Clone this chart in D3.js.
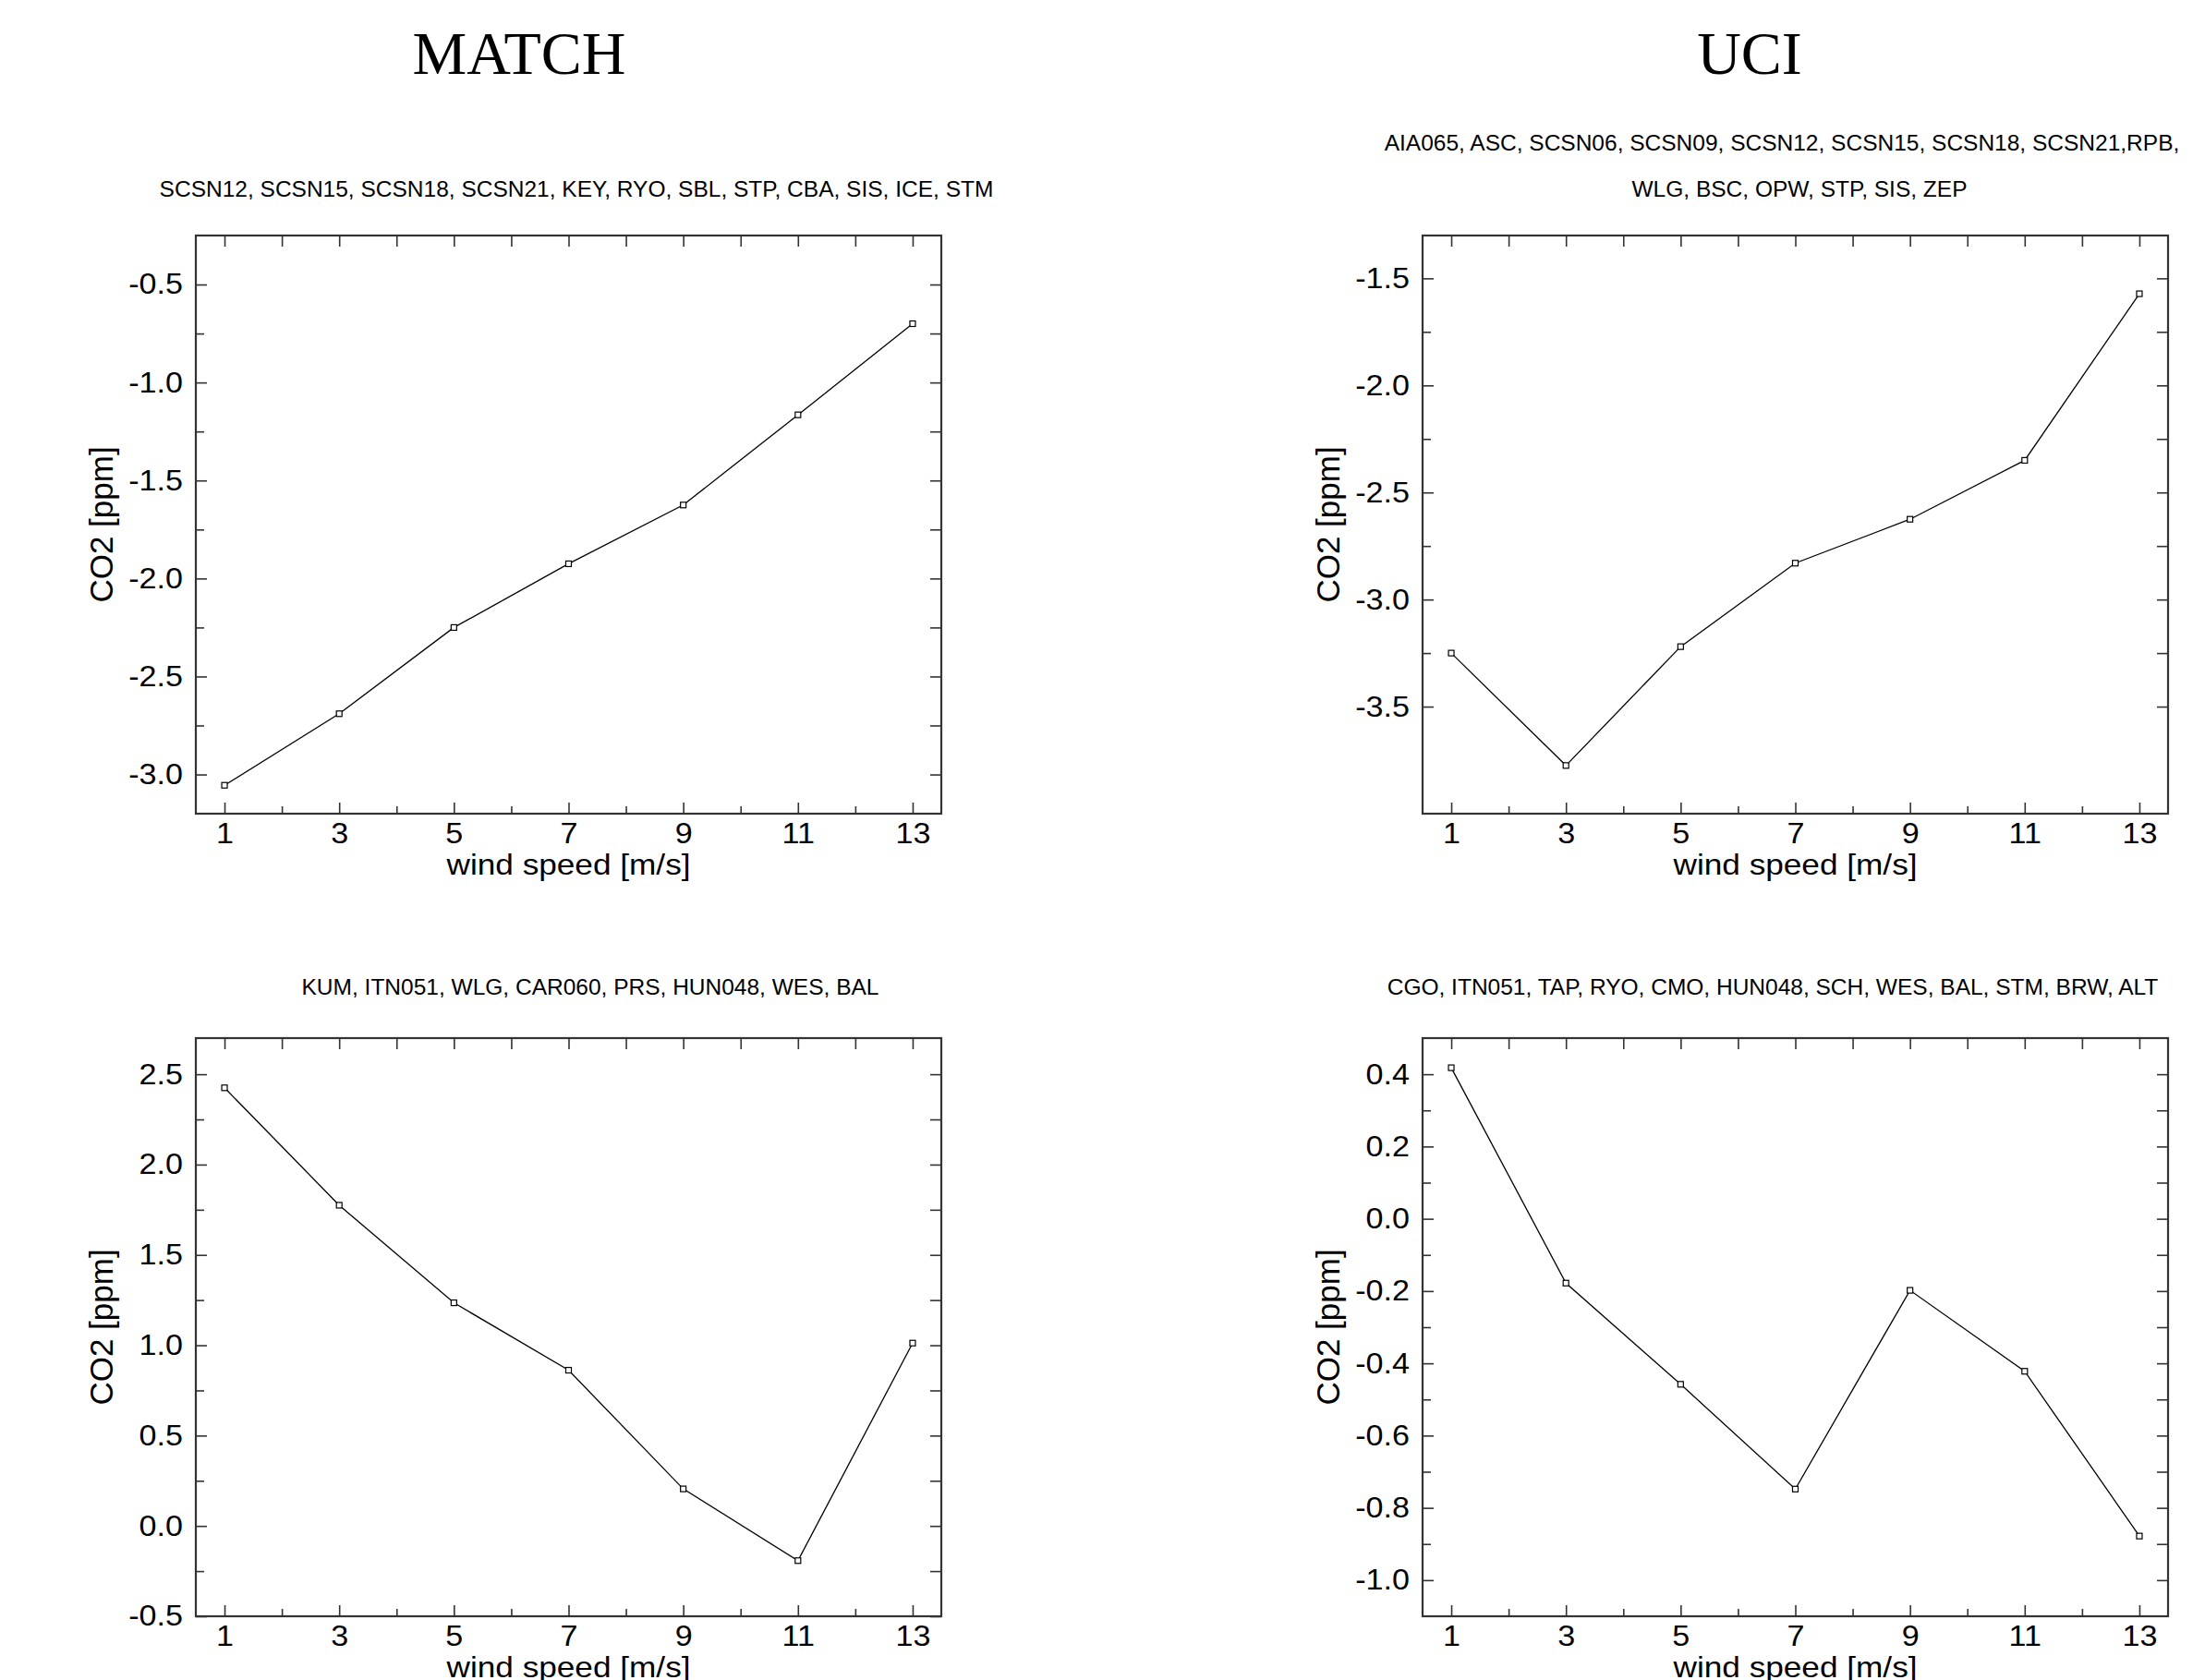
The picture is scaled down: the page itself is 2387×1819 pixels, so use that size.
<!DOCTYPE html>
<html>
<head>
<meta charset="utf-8">
<script src="https://cdn.jsdelivr.net/npm/d3@7"></script>
<style>
  html, body { margin: 0; padding: 0; background: #fff; }
  text { font-family: "Liberation Sans", Arial, sans-serif; fill: #000; }
  .title { font-family: "Liberation Serif", "Times New Roman", serif; font-size: 66px; }
  .sub { font-size: 24.5px; }
  .tick text { font-size: 31px; }
  .lbl { font-size: 32px; }
  .ylbl { font-size: 35px; }
</style>
</head>
<body>
<svg id="chart"></svg>
<script>
// wind speed bins, shared by all four panels
const windSpeed = [1, 3, 5, 7, 9, 11, 13];
const xTicksMajor = [1, 3, 5, 7, 9, 11, 13];
const xTicksMinor = [2, 4, 6, 8, 10, 12];

// CO2 [ppm] per wind speed bin
const matchTop  = [-3.055, -2.69, -2.25, -1.925, -1.625, -1.165, -0.70];
const uciTop    = [-3.25, -3.775, -3.22, -2.83, -2.625, -2.35, -1.572];
const matchBot  = [2.425, 1.775, 1.235, 0.862, 0.205, -0.192, 1.012];
const uciBot    = [0.418, -0.178, -0.458, -0.748, -0.198, -0.422, -0.878];

// station lists shown above each panel
const matchTopSites = ["SCSN12, SCSN15, SCSN18, SCSN21, KEY, RYO, SBL, STP, CBA, SIS, ICE, STM"];
const uciTopSites   = ["AIA065, ASC, SCSN06, SCSN09, SCSN12, SCSN15, SCSN18, SCSN21,RPB,",
                       "WLG, BSC, OPW, STP, SIS, ZEP"];
const matchBotSites = ["KUM, ITN051, WLG, CAR060, PRS, HUN048, WES, BAL"];
const uciBotSites   = ["CGO, ITN051, TAP, RYO, CMO, HUN048, SCH, WES, BAL, STM, BRW, ALT"];

// y tick labels per panel
const matchTopTicks = [-3.0, -2.5, -2.0, -1.5, -1.0, -0.5];
const uciTopTicks   = [-3.5, -3.0, -2.5, -2.0, -1.5];
const matchBotTicks = [-0.5, 0.0, 0.5, 1.0, 1.5, 2.0, 2.5];
const uciBotTicks   = [-1.0, -0.8, -0.6, -0.4, -0.2, 0.0, 0.2, 0.4];

const models = [{name: "MATCH", cx: 562}, {name: "UCI", cx: 1894}];

let width   = 2387,
    height  = 1819,
    frameW  = 807,
    frameH  = 626,
    stretch = 1.1,   // the original lettering is a bit wide
    svg     = d3.select("#chart").attr("width", width).attr("height", height);

let panels = [
  {x: 212,  y: 255,  values: matchTop, ticks: matchTopTicks, domain: [-3.2, -0.25], sites: matchTopSites, subX: [624],        subY: [213]},
  {x: 1540, y: 255,  values: uciTop,   ticks: uciTopTicks,   domain: [-4.0, -1.3],  sites: uciTopSites,   subX: [1929, 1948], subY: [163, 213]},
  {x: 212,  y: 1124, values: matchBot, ticks: matchBotTicks, domain: [-0.5, 2.7],   sites: matchBotSites, subX: [639],        subY: [1077]},
  {x: 1540, y: 1124, values: uciBot,   ticks: uciBotTicks,   domain: [-1.1, 0.5],   sites: uciBotSites,   subX: [1919],       subY: [1077]}
];

// Model titles
svg.selectAll("text.title")
  .data(models)
  .enter().append("text")
  .attr("class", "title")
  .attr("x", d => d.cx)
  .attr("y", 80)
  .attr("text-anchor", "middle")
  .text(d => d.name);

panels.forEach(drawPanel);

function drawPanel(p) {
  let x = d3.scaleLinear().domain([0.5, 13.5]).range([0, frameW]),
      y = d3.scaleLinear().domain(p.domain).range([frameH, 0]),
      step = p.ticks[1] - p.ticks[0],
      minor = p.ticks.map(t => t + step / 2).filter(t => t > p.domain[0] && t < p.domain[1]),
      fmt = d => d.toFixed(1),
      g = svg.append("g").attr("transform", "translate(" + p.x + "," + p.y + ")");

  // station list(s)
  p.sites.forEach((s, i) => {
    svg.append("text")
      .attr("class", "sub")
      .attr("x", p.subX[i])
      .attr("y", p.subY[i])
      .attr("text-anchor", "middle")
      .text(s);
  });

  // Axes: all ticks point inward
  let xAx = g.append("g").attr("transform", "translate(0," + frameH + ")")
    .call(d3.axisBottom(x).tickValues(xTicksMajor).tickSize(-12).tickPadding(10).tickFormat(d3.format("d")));
  g.append("g").attr("transform", "translate(0," + frameH + ")")
    .call(d3.axisBottom(x).tickValues(xTicksMinor).tickSize(-8).tickFormat(""));
  g.append("g")
    .call(d3.axisTop(x).tickValues(xTicksMajor.concat(xTicksMinor)).tickSize(-12).tickFormat(""));

  let yAx = g.append("g").call(d3.axisLeft(y).tickValues(p.ticks).tickSize(-12).tickPadding(14).tickFormat(fmt));
  g.append("g").call(d3.axisLeft(y).tickValues(minor).tickSize(-9).tickFormat(""));
  g.append("g").attr("transform", "translate(" + frameW + ",0)")
    .call(d3.axisRight(y).tickValues(p.ticks.concat(minor)).tickSize(-12).tickFormat(""));

  // widen the tick lettering around its anchor
  xAx.selectAll(".tick text").attr("transform", "scale(" + stretch + ",1)");
  yAx.selectAll(".tick text")
    .attr("transform", "translate(-14,0) scale(" + stretch + ",1)")
    .attr("x", 0);

  g.selectAll(".domain").remove();
  g.selectAll(".tick line").attr("stroke", "#333").attr("stroke-width", 1.6);

  // frame
  g.append("rect")
    .attr("width", frameW)
    .attr("height", frameH)
    .attr("fill", "none")
    .attr("stroke", "#333")
    .attr("stroke-width", 2.2);

  // axis titles
  g.append("text")
    .attr("class", "lbl")
    .attr("transform", "translate(" + (frameW / 2) + "," + (frameH + 66) + ") scale(" + stretch + ",1)")
    .attr("text-anchor", "middle")
    .text("wind speed [m/s]");

  g.append("text")
    .attr("class", "ylbl")
    .attr("transform", "translate(-90," + (frameH / 2) + ") rotate(-90)")
    .attr("text-anchor", "middle")
    .text("CO2 [ppm]");

  // data line + open square markers
  let pts = windSpeed.map((w, i) => [w, p.values[i]]);

  g.append("path")
    .datum(pts)
    .attr("fill", "none")
    .attr("stroke", "#000")
    .attr("stroke-width", 1.3)
    .attr("d", d3.line().x(d => x(d[0])).y(d => y(d[1])));

  g.selectAll("rect.pt")
    .data(pts)
    .enter().append("rect")
    .attr("class", "pt")
    .attr("x", d => x(d[0]) - 3)
    .attr("y", d => y(d[1]) - 3)
    .attr("width", 6)
    .attr("height", 6)
    .attr("fill", "#fff")
    .attr("stroke", "#000")
    .attr("stroke-width", 1.2);
}
</script>
</body>
</html>
